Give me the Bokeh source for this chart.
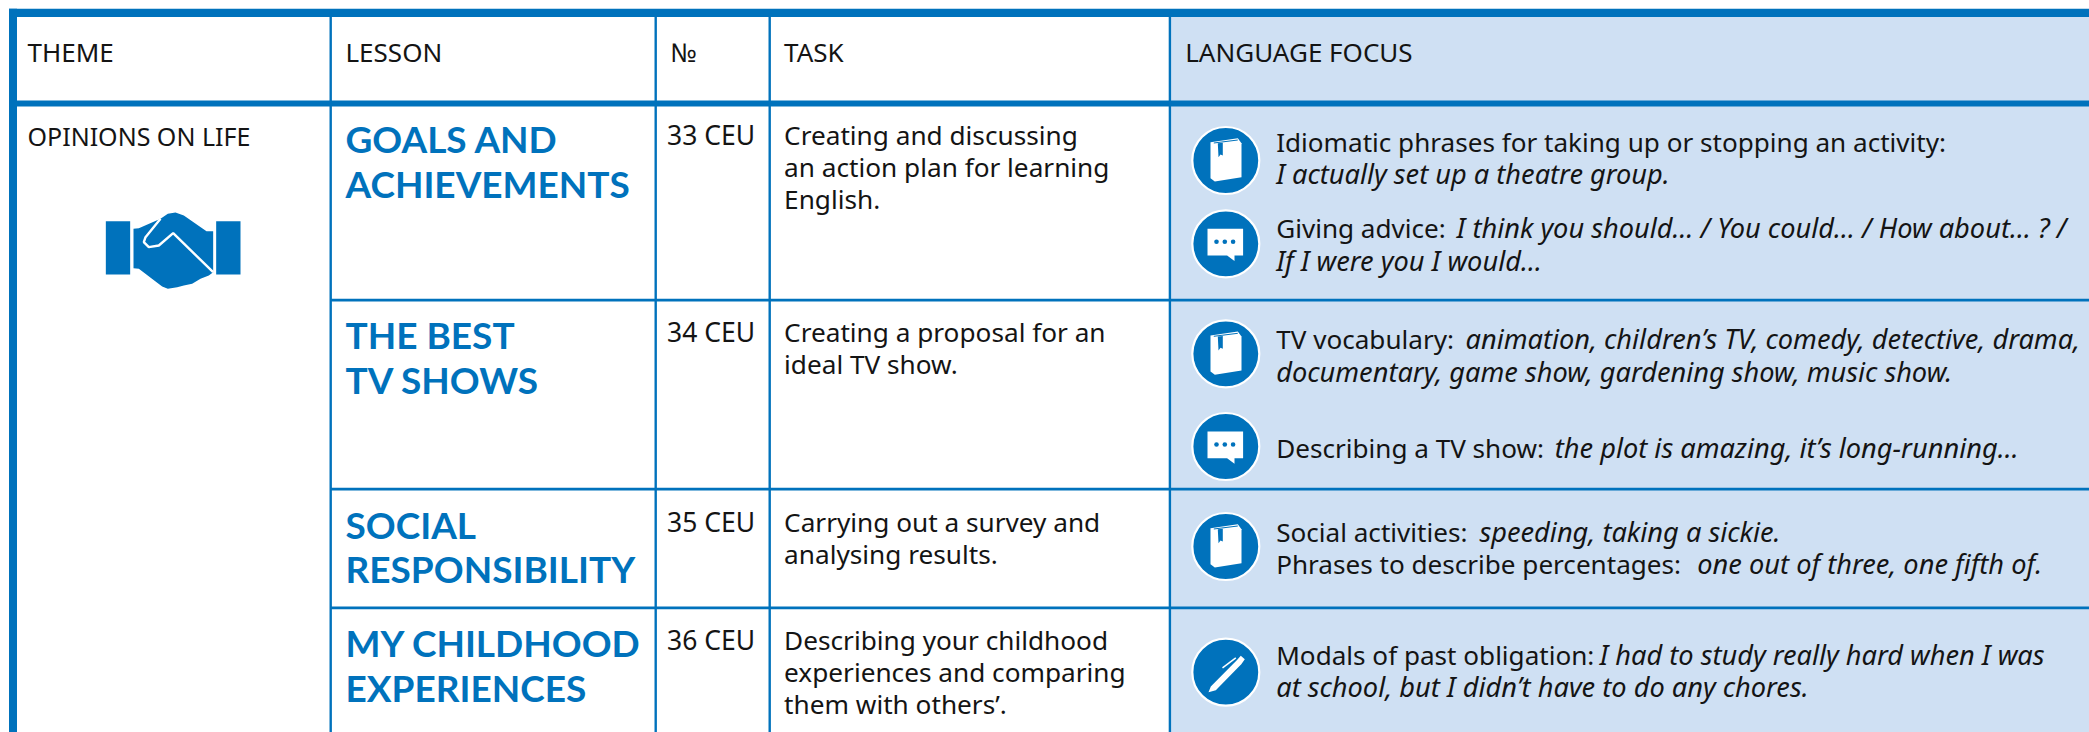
from bokeh.plotting import figure
from bokeh.models import ColumnDataSource
from bokeh.core.properties import value
from bokeh.embed import file_html
from bokeh.resources import INLINE

# ---- content ----
headers = ["THEME", "LESSON", "№", "TASK", "LANGUAGE FOCUS"]
theme = ["OPINIONS ON LIFE"]
lessons = ["GOALS AND", "ACHIEVEMENTS", "THE BEST", "TV SHOWS", "SOCIAL", "RESPONSIBILITY", "MY CHILDHOOD", "EXPERIENCES"]
numbers = ["33 CEU", "34 CEU", "35 CEU", "36 CEU"]
tasks = ["Creating and discussing", "an action plan for learning", "English.",
         "Creating a proposal for an", "ideal TV show.",
         "Carrying out a survey and", "analysing results.",
         "Describing your childhood", "experiences and comparing", "them with others’."]
focus_regular = ["Idiomatic phrases for taking up or stopping an activity:", "Giving advice:", "TV vocabulary:",
                 "Describing a TV show:", "Social activities:", "Phrases to describe percentages:",
                 "Modals of past obligation:"]
focus_italic = ["I actually set up a theatre group.", "I think you should… / You could… / How about… ? /",
                "If I were you I would…", "animation, children’s TV, comedy, detective, drama,",
                "documentary, game show, gardening show, music show.",
                "the plot is amazing, it’s long-running…", "speeding, taking a sickie.",
                "one out of three, one fifth of.", "I had to study really hard when I was",
                "at school, but I didn’t have to do any chores."]
icons = ["book", "chat", "book", "chat", "book", "pen"]

# ---- layout (reference pixels) ----
W, H = 2089, 732
BLUE, PANEL, INK = "#0072BC", "#CFE0F3", "#141414"
col_x = [329, 654, 768, 1168.2]
col_w = 2.4
head_x = [27, 345, 670, 783.6, 1184.7]
row_lines = [298.3, 487.3, 606]
lesson_base = [153.3, 199, 350, 395, 539.3, 583.7, 657.7, 702.7]
number_base = [145.3, 341.7, 531.7, 650]
task_base = [145, 177, 209, 341.7, 374, 531.7, 564, 650, 682, 714]
reg_x = [1275.7] * 7
reg_base = [151.5, 238.3, 349.3, 458.3, 541.7, 574, 665]
ita_x = [1275.7, 1456, 1275.7, 1465, 1275.7, 1554.3, 1479, 1696.8, 1598.9, 1275.7]
ita_base = [184, 238.3, 270.7, 349.3, 381.7, 458.3, 541.7, 574, 665, 697.3]
icon_cx = 1225.3
icon_cy = [160, 243.3, 353.3, 446, 546, 671.7]

p = figure(width=W, height=H, x_range=(0, W), y_range=(H, 0),
           output_backend="svg", toolbar_location=None, min_border=0,
           x_axis_location=None, y_axis_location=None, background_fill_color="white",
           outline_line_color=None)
p.grid.visible = False

# panel and rules
p.quad(left=[1170], right=[W], top=[16], bottom=[H], fill_color=PANEL, line_color=None)
p.quad(left=[8.5], right=[16.5], top=[8.3], bottom=[H], fill_color=BLUE, line_color=None)
p.quad(left=[8.5], right=[W], top=[8.3], bottom=[16.6], fill_color=BLUE, line_color=None)
p.quad(left=[16], right=[W], top=[100], bottom=[106], fill_color=BLUE, line_color=None)
p.quad(left=col_x, right=[x + col_w for x in col_x], top=[16] * 4, bottom=[H] * 4, fill_color=BLUE, line_color=None)
p.quad(left=[330] * 3, right=[W] * 3, top=row_lines, bottom=[y + 2.8 for y in row_lines], fill_color=BLUE, line_color=None)

# the SVG text sits lower than the requested baseline by a fraction of its size
LIFT = 0.40


def txt(xs, ys, strings, size, color=INK, font="Noto Sans", style="normal", lift=LIFT):
    src = ColumnDataSource(dict(x=xs, y=[y - lift * size for y in ys], t=strings))
    p.text("x", "y", text="t", source=src, text_font=value(font), text_font_size=value(f"{size}px"),
           text_font_style=value(style), text_color=value(color), text_baseline=value("alphabetic"),
           text_align=value("left"))


txt(head_x, [62.3] * 5, headers, 26)
txt([27], [145], theme, 25)
txt([345] * 8, lesson_base, lessons, 37, BLUE, "Lato", "bold", lift=0.42)
txt([666.5] * 4, number_base, numbers, 26.5)
txt([783.6] * 10, task_base, tasks, 26.2)
txt(reg_x, reg_base, focus_regular, 26.1)
txt(ita_x, ita_base, focus_italic, 27.2, style="italic")

# handshake (zoom-crop coordinates)
hx = lambda z: 80 + z / 3
hy = lambda z: 190 + z / 3
p.quad(left=[hx(76), hx(407)], right=[hx(149), hx(480)], top=[hy(92)] * 2, bottom=[hy(252)] * 2, fill_color=BLUE, line_color=None)
hand = [(159, 115), (175, 113), (240, 85), (262, 70), (285, 66), (310, 75), (378, 122), (398, 122), (398, 245), (385, 255),
        (360, 265), (335, 280), (310, 285), (290, 290), (262, 295), (245, 288), (175, 235), (159, 233)]
p.patch([hx(a) for a, b in hand], [hy(b) for a, b in hand], fill_color=BLUE, line_color=None)
seam = [(240, 85), (195, 140), (190, 155), (205, 170), (235, 165), (278, 128), (398, 245)]
p.line([hx(a) for a, b in seam], [hy(b) for a, b in seam], line_color="white", line_width=2.4)

# icons
book = [(-15.3, -18.3), (12, -22.3), (15.7, -17.3), (15.7, 16.7), (-11, 21), (-15.3, 17.7)]
mark = [(-8, -17.3), (-3, -17.7), (-3, -5), (-5.3, -6), (-7.3, -3.3)]
bubble = [(-18.3, -15), (17.3, -15), (17.3, 11.7), (8.7, 11.7), (8.7, 17.3), (1.3, 11.7), (-18.3, 11.7)]
pen = [(-17.3, 20), (-15, 14.3), (8, -9), (11, -12), (15, -16.5), (19, -13), (15.5, -8), (13, -5.5), (-10, 18)]


def poly(pts, cx, cy, color="white"):
    p.patch([cx + a for a, b in pts], [cy + b for a, b in pts], fill_color=color, line_color=None)


for kind, cy in zip(icons, icon_cy):
    p.circle([icon_cx], [cy], radius=33.5, radius_units="screen", fill_color=BLUE, line_color="white", line_width=2.2)
    if kind == "book":
        poly(book, icon_cx, cy)
        poly(mark, icon_cx, cy, BLUE)
        p.line([icon_cx - 12, icon_cx + 12], [cy - 17.5, cy - 20.5], line_color=BLUE, line_width=1)
    elif kind == "chat":
        poly(bubble, icon_cx, cy)
        p.circle([icon_cx - 9.3, icon_cx - 1, icon_cx + 7.3], [cy - 2] * 3, radius=2.3, radius_units="screen",
                 fill_color=BLUE, line_color=None)
    else:
        poly(pen, icon_cx, cy)
        p.line([icon_cx - 3.3, icon_cx + 10], [cy - 4.3, cy - 14.3], line_color="white", line_width=1.5)

open("out.html", "w").write(file_html(p, INLINE))
